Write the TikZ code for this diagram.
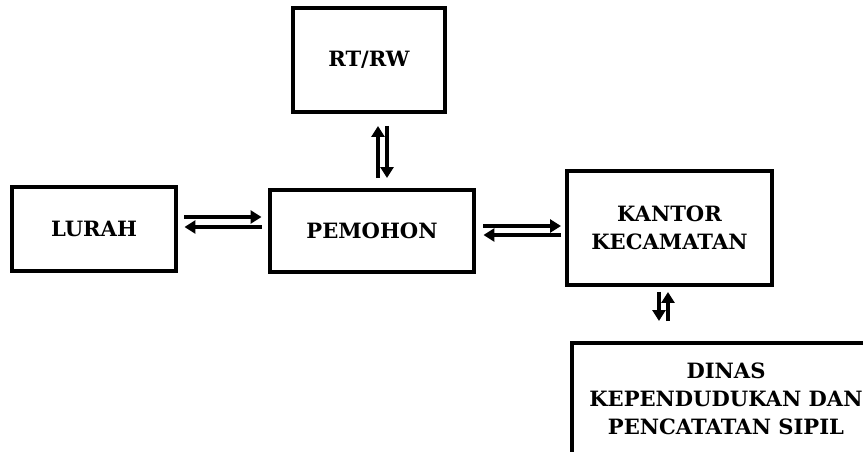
\documentclass[tikz,border=0pt]{standalone}
\usepackage{fontspec}
\setmainfont{DejaVu Serif}
\usetikzlibrary{arrows.meta}

\begin{document}
\begin{tikzpicture}[x=0.02cm, y=-0.02cm,
  box/.style={draw, line width=0.08cm, align=center, inner sep=0pt,
    font=\fontsize{12}{16}\selectfont\bfseries},
  link/.style={line width=0.075cm, -{Triangle[length=0.22cm, width=0.26cm]}}]
  \clip (0, 0) rectangle (863, 452);
  \node[box, minimum width=3.04cm, minimum height=2.08cm] (rtrw) at (369, 60) {RT/RW};
  \node[box, minimum width=3.3cm, minimum height=1.7cm] (lurah) at (94, 229) {LURAH};
  \node[box, minimum width=4.1cm, minimum height=1.66cm] (pemohon) at (372, 231) {PEMOHON};
  \node[box, minimum width=4.1cm, minimum height=2.28cm] (kantor) at (669.5, 228) {KANTOR\\KECAMATAN};
  \node[box, minimum width=6.16cm, minimum height=2.24cm] (dinas) at (726, 399) {DINAS\\KEPENDUDUKAN DAN\\PENCATATAN SIPIL};
  \draw[link, shorten <=0.12cm, shorten >=0.12cm] ([yshift=0.24cm]lurah.east) -- ([yshift=0.24cm]lurah.east -| pemohon.west);
  \draw[link, shorten <=0.12cm, shorten >=0.12cm] ([yshift=0.04cm]lurah.east -| pemohon.west) -- ([yshift=0.04cm]lurah.east);
  \draw[link, shorten <=0.14cm, shorten >=0.08cm] ([yshift=0.1cm]pemohon.east) -- ([yshift=0.1cm]pemohon.east -| kantor.west);
  \draw[link, shorten <=0.08cm, shorten >=0.14cm] ([yshift=-0.08cm]pemohon.east -| kantor.west) -- ([yshift=-0.08cm]pemohon.east);
  \draw[link, shorten <=0.19cm, shorten >=0.24cm] ([xshift=0.12cm]pemohon.north) -- ([xshift=0.12cm]pemohon.north |- rtrw.south);
  \draw[link, shorten <=0.24cm, shorten >=0.19cm] ([xshift=0.3cm]pemohon.north |- rtrw.south) -- ([xshift=0.3cm]pemohon.north);
  \draw[link, shorten <=0.1cm, shorten >=0.4cm] ([xshift=-0.21cm]kantor.south) -- ([xshift=-0.21cm]kantor.south |- dinas.north);
  \draw[link, shorten <=0.4cm, shorten >=0.1cm] ([xshift=-0.03cm]kantor.south |- dinas.north) -- ([xshift=-0.03cm]kantor.south);
\end{tikzpicture}
\end{document}
